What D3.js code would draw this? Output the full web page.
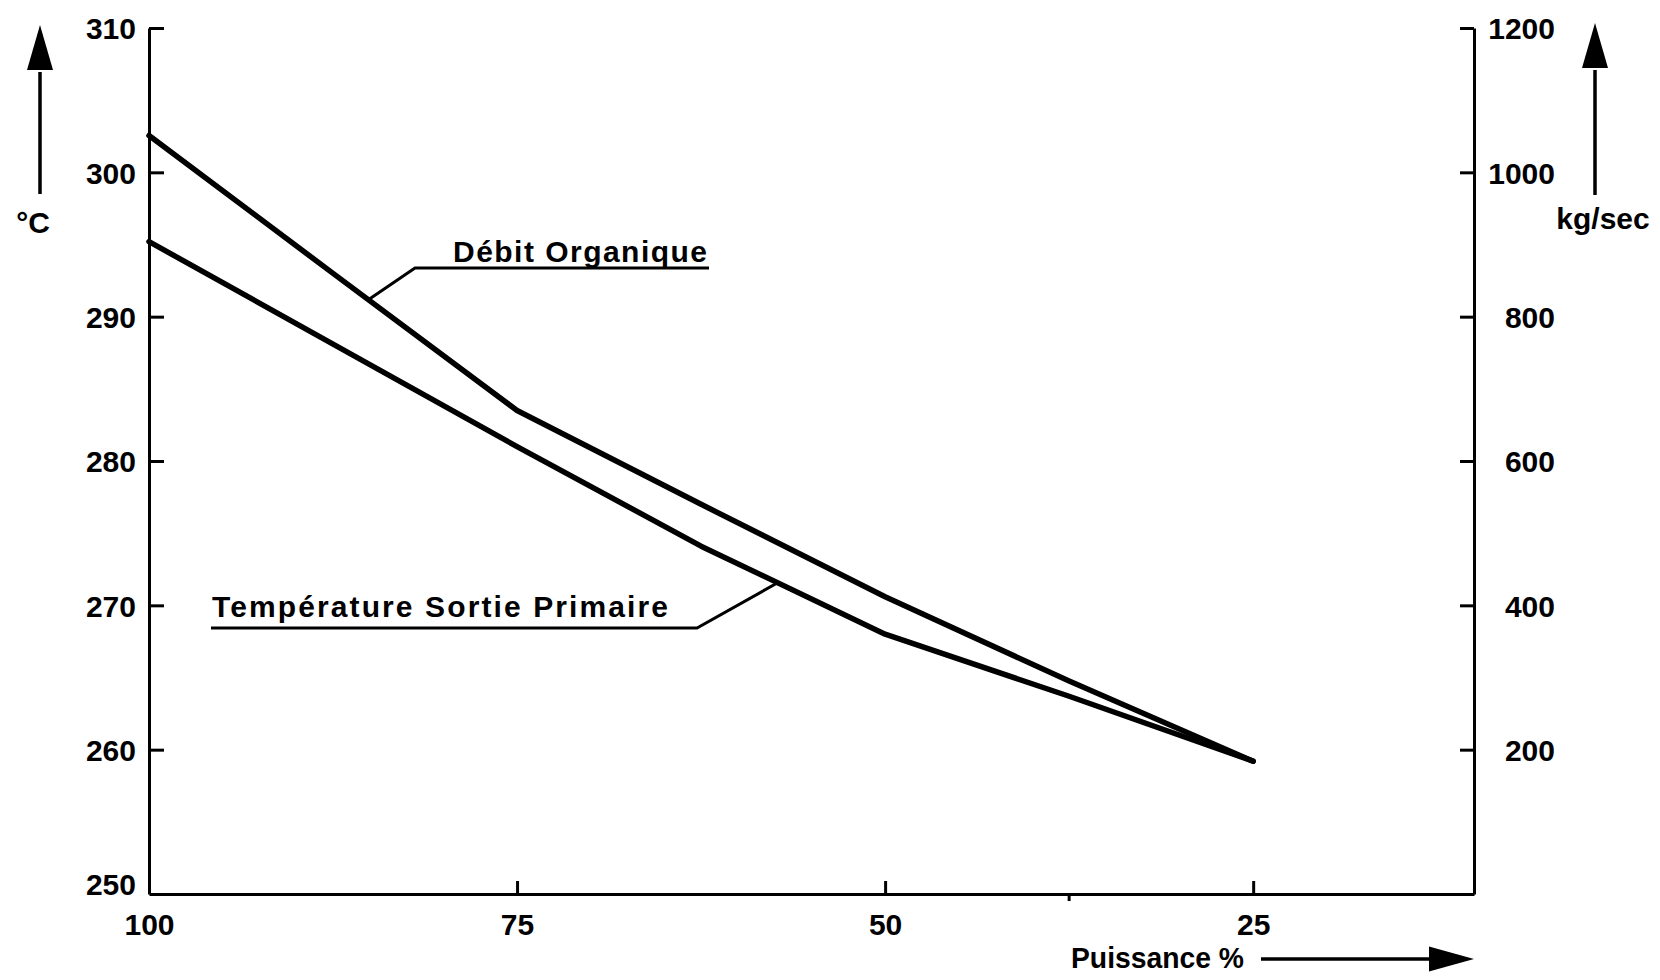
<!DOCTYPE html>
<html>
<head>
<meta charset="utf-8">
<script src="https://cdn.jsdelivr.net/npm/d3@7"></script>
<style>
  html, body { margin: 0; padding: 0; background: #fff; }
  svg { display: block; }
  text { font-family: "Liberation Sans", Arial, sans-serif; font-weight: bold; fill: #000; }
</style>
</head>
<body>
<svg id="chart" width="1660" height="980"></svg>
<script>
// Power level (%), read from high to low along the horizontal axis
const puissance = [100, 87.5, 75, 62.5, 50, 37.5, 25];
// Organic coolant flow, kg/sec (right axis)
const debitOrganique = [1051, 860, 670, 540, 412, 295, 184];
// Primary outlet temperature, °C (left axis)
const temperatureSortie = [295.2, 288.1, 281.0, 274.1, 268.0, 263.7, 259.2];

const tempTicks = [250, 260, 270, 280, 290, 300, 310];
const debitTicks = [200, 400, 600, 800, 1000, 1200];
const puissanceTicks = [100, 75, 50, 25];

const svg = d3.select("#chart");
const FONT = 30;

const x = d3.scaleLinear().domain([100, 10]).range([149, 1474]);
const yT = d3.scaleLinear().domain([250, 310]).range([894, 28]);
const yF = d3.scaleLinear().domain([0, 1200]).range([894, 28]);

function styleAxis(g) {
  g.selectAll("path.domain").attr("stroke", "#000").attr("stroke-width", 3);
  g.selectAll(".tick line").attr("stroke", "#000").attr("stroke-width", 3);
  g.selectAll(".tick text").style("font-size", FONT + "px").attr("fill", "#000");
}

// Left axis, °C
const gL = svg.append("g").attr("transform", "translate(149,0)")
  .call(d3.axisLeft(yT).tickValues(tempTicks).tickSizeInner(-15).tickSizeOuter(0)
    .tickPadding(13).tickFormat(d3.format("d")));
styleAxis(gL);
gL.selectAll(".tick text").attr("dy", "0.36em");
gL.selectAll(".tick").filter(d => d === 250).select("text").attr("dy", "0.0em");
gL.selectAll(".tick").filter(d => d === 250).select("line").remove();

// Right axis, kg/sec
const gR = svg.append("g").attr("transform", "translate(1474,0)")
  .call(d3.axisRight(yF).tickValues(debitTicks).tickSizeInner(-14).tickSizeOuter(0)
    .tickFormat(d3.format("d")));
styleAxis(gR);
gR.selectAll(".tick text").attr("text-anchor", "end").attr("x", 81).attr("dy", "0.36em");

// Bottom axis, power %
const gB = svg.append("g").attr("transform", "translate(0,894)")
  .call(d3.axisBottom(x).tickValues(puissanceTicks).tickSizeInner(-13).tickSizeOuter(0)
    .tickFormat(d3.format("d")));
styleAxis(gB);
gB.selectAll(".tick text").attr("y", 41).attr("dy", 0);
gB.selectAll(".tick").filter(d => d === 100).select("line").remove();
// small lower mark at 37.5 %
gB.append("line").attr("x1", x(37.5)).attr("x2", x(37.5)).attr("y1", 0).attr("y2", 7)
  .attr("stroke", "#000").attr("stroke-width", 3);

// Curves
const rows = puissance.map((p, i) => ({ p, debit: debitOrganique[i], temp: temperatureSortie[i] }));

const lineDebit = d3.line().x(d => x(d.p)).y(d => yF(d.debit));
const lineTemp = d3.line().x(d => x(d.p)).y(d => yT(d.temp));

svg.append("path").datum(rows).attr("d", lineDebit)
  .attr("fill", "none").attr("stroke", "#000").attr("stroke-width", 5.5)
  .attr("stroke-linejoin", "round").attr("stroke-linecap", "round");
svg.append("path").datum(rows).attr("d", lineTemp)
  .attr("fill", "none").attr("stroke", "#000").attr("stroke-width", 5.5)
  .attr("stroke-linejoin", "round").attr("stroke-linecap", "round");

// value on a series at a given power, linear between readings
function at(series, p) {
  const s = d3.scaleLinear().domain(puissance).range(series);
  return s(p);
}

// Callouts
const leaderDebitP = 85.1;
const ax1 = x(leaderDebitP), ay1 = yF(at(debitOrganique, leaderDebitP));
svg.append("polyline")
  .attr("points", [[ax1, ay1], [415, 268], [709, 268]].map(p => p.join(",")).join(" "))
  .attr("fill", "none").attr("stroke", "#000").attr("stroke-width", 3);
svg.append("text").attr("x", 453).attr("y", 262).style("font-size", FONT + "px")
  .attr("textLength", 254).attr("lengthAdjust", "spacing")
  .text("Débit Organique");

const leaderTempP = 57.3;
const ax2 = x(leaderTempP), ay2 = yT(at(temperatureSortie, leaderTempP));
svg.append("polyline")
  .attr("points", [[ax2, ay2], [697, 628], [211, 628]].map(p => p.join(",")).join(" "))
  .attr("fill", "none").attr("stroke", "#000").attr("stroke-width", 3);
svg.append("text").attr("x", 212).attr("y", 617).style("font-size", FONT + "px")
  .attr("textLength", 456).attr("lengthAdjust", "spacing")
  .text("Température Sortie Primaire");

// Unit labels and direction arrows
svg.append("text").attr("x", 33).attr("y", 233).attr("text-anchor", "middle")
  .style("font-size", FONT + "px").text("°C");
svg.append("text").attr("x", 1603).attr("y", 229).attr("text-anchor", "middle")
  .style("font-size", FONT + "px").text("kg/sec");
svg.append("text").attr("x", 1071).attr("y", 968)
  .style("font-size", FONT + "px").attr("textLength", 173).attr("lengthAdjust", "spacingAndGlyphs")
  .text("Puissance %");

function arrowUp(cx, yTip, yBase, yEnd) {
  svg.append("line").attr("x1", cx).attr("x2", cx).attr("y1", yEnd).attr("y2", yBase + 2)
    .attr("stroke", "#000").attr("stroke-width", 3.5);
  svg.append("path").attr("d", `M${cx},${yTip} L${cx - 13},${yBase} L${cx + 13},${yBase} Z`).attr("fill", "#000");
}
arrowUp(40, 25, 70, 194);
arrowUp(1595, 23, 68, 195);

svg.append("line").attr("x1", 1261).attr("x2", 1431).attr("y1", 959).attr("y2", 959)
  .attr("stroke", "#000").attr("stroke-width", 3.5);
svg.append("path").attr("d", "M1474,959 L1429,946.5 L1429,971.5 Z").attr("fill", "#000");
</script>
</body>
</html>
